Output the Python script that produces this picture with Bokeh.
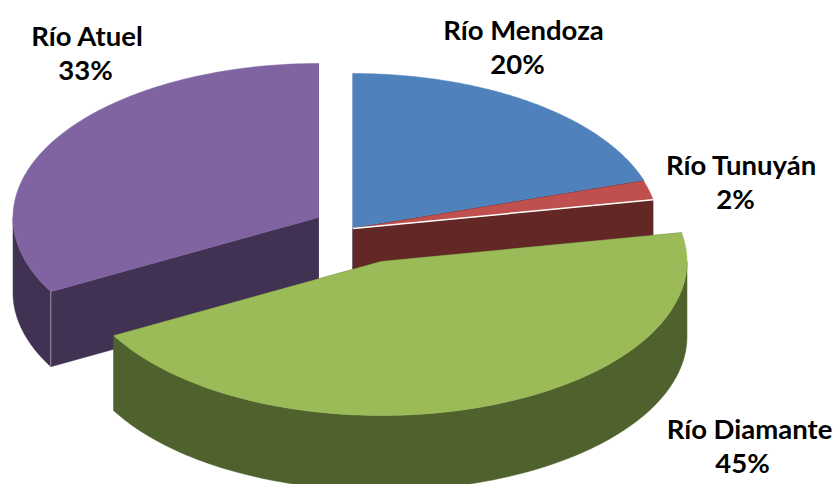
import numpy as np
from bokeh.plotting import figure
from bokeh.embed import file_html
from bokeh.resources import INLINE
from bokeh.core.properties import value

# Data
names = ["Río Mendoza", "Río Tunuyán", "Río Diamante", "Río Atuel"]
shares = [20, 2, 45, 33]
share_labels = ["20%", "2%", "45%", "33%"]
top_colors = ["#4F81BD", "#C0504D", "#9BBB59", "#8064A2"]
side_colors = ["#3A5F8C", "#632725", "#4F612C", "#413253"]

# Layout (page pixels)
centers = [(352.5, 227), (352.5, 228), (381, 261), (318, 217)]
RX, RY, DEPTH = 305.5, 154, 75
name_pos = [(523, 29), (741, 164), (749, 428), (87, 35)]
pct_pos = [(517, 63), (735, 198), (742, 462), (85, 69)]

W, H = 835, 484
p = figure(width=W, height=H, x_range=(0, W), y_range=(H, 0),
           output_backend="svg", toolbar_location=None, min_border=0)
p.axis.visible = False
p.grid.visible = False
p.outline_line_color = None
p.background_fill_color = "white"
p.border_fill_color = "white"

fracs = np.array(shares, float) / sum(shares)
edges = np.concatenate([[0], np.cumsum(fracs)]) * 2 * np.pi


def rim(c, a0, a1, dz=0.0, n=120):
    t = np.linspace(a0, a1, n)
    return c[0] + RX * np.sin(t), c[1] - RY * np.cos(t) + dz


def draw_side(i):
    c = centers[i]
    a0, a1 = edges[i], edges[i + 1]
    # radial faces
    for a in (a0, a1):
        x1, y1 = c[0] + RX * np.sin(a), c[1] - RY * np.cos(a)
        p.patch([c[0], x1, x1, c[0]], [c[1], y1, y1 + DEPTH, c[1] + DEPTH],
                fill_color=side_colors[i], line_color=side_colors[i], line_width=0.5)
    # outer wall (front half of the ellipse only)
    lo, hi = max(a0, np.pi / 2), min(a1, 3 * np.pi / 2)
    if hi > lo:
        x, y = rim(c, lo, hi)
        xb, yb = rim(c, hi, lo, DEPTH)
        p.patch(np.r_[x, xb], np.r_[y, yb], fill_color=side_colors[i],
                line_color=side_colors[i], line_width=0.5)


def draw_top(i):
    c = centers[i]
    x, y = rim(c, edges[i], edges[i + 1])
    p.patch(np.r_[c[0], x], np.r_[c[1], y], fill_color=top_colors[i],
            line_color=top_colors[i], line_width=0.5)


# Back to front
for i in [0, 3, 1]:
    draw_side(i)
    draw_top(i)

# Thin light edges on side faces
c = centers[1]
a = edges[2]
p.line([c[0], c[0] + RX * np.sin(a)], [c[1], c[1] - RY * np.cos(a)], line_color="white", line_width=1.5)
c = centers[3]
a = edges[3]
xe, ye = c[0] + RX * np.sin(a), c[1] - RY * np.cos(a)
p.line([xe, xe], [ye, ye + DEPTH], line_color="#9A8FA8", line_width=1)

draw_side(2)
draw_top(2)

font = value("Lato")
for i in range(4):
    p.text([name_pos[i][0]], [name_pos[i][1]], text=[names[i]], text_font=font,
           text_font_style="bold", text_font_size="27.5px", text_color="black",
           text_align="center", text_baseline="middle")
    p.text([pct_pos[i][0]], [pct_pos[i][1]], text=[share_labels[i]], text_font=font,
           text_font_style="bold", text_font_size="27.5px", text_color="black",
           text_align="center", text_baseline="middle")

open("out.html", "w").write(file_html(p, INLINE))
